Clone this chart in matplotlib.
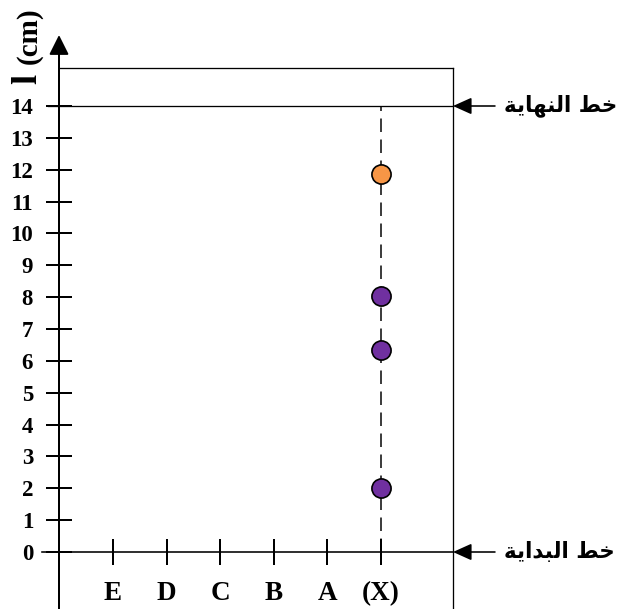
import matplotlib
matplotlib.use("Agg")
import matplotlib.pyplot as plt

# ---- data ----
categories = ["E", "D", "C", "B", "A", "(X)"]
y_ticks = list(range(0, 15))
start_line = 0
finish_line = 14
spot_cat = ["(X)", "(X)", "(X)", "(X)"]
spot_y = [11.85, 8.05, 6.33, 2.0]
spot_colors = ["#F79646", "#7030A0", "#7030A0", "#7030A0"]
label_finish = "\uFE94\uFEF3\uFE8E\uFEEC\uFEE8\uFEDF\uFE8D \uFEC2\uFEA7"   # خط النهاية (shaped, visual order)
label_start = "\uFE94\uFEF3\uFE8D\uFEAA\uFE92\uFEDF\uFE8D \uFEC2\uFEA7"    # خط البداية

plt.rcParams["font.family"] = ["Liberation Serif", "DejaVu Sans"]
plt.rcParams["font.weight"] = "bold"

W, H = 619, 609
fig = plt.figure(figsize=(W / 100, H / 100), dpi=100)

# pixel geometry
x_left, x_right, y_top, y_bot = 59, 453, 68, 609
y0_px, unit = 552, (552 - 106) / 14
cat0_px, cat_step = 113, 53.6

ax = fig.add_axes([x_left / W, 0, (x_right - x_left) / W, (y_bot - y_top) / H])
ax.set_xlim((x_left - cat0_px) / cat_step, (x_right - cat0_px) / cat_step)
ax.set_ylim(-(y_bot - y0_px) / unit, (y0_px - y_top) / unit)

pt = 0.72  # points per pixel

ax.spines["left"].set_linewidth(2 * pt)
ax.spines["top"].set_linewidth(1.3 * pt)
ax.spines["right"].set_linewidth(1.3 * pt)
ax.spines["bottom"].set_position(("data", start_line))
ax.spines["bottom"].set_visible(False)

ax.set_yticks(y_ticks)
ax.set_yticklabels([str(v) for v in y_ticks])
ax.set_xticks(range(len(categories)))
ax.set_xticklabels(categories)
ax.tick_params(axis="y", direction="inout", length=27 * pt, width=2 * pt,
               pad=9.0, labelsize=16.5)
ax.tick_params(axis="x", direction="inout", length=27 * pt, width=2 * pt,
               pad=11, labelsize=19.5)

yt = ax.get_yaxis_transform()
# start / finish lines
ax.plot([-0.043, 1], [start_line, start_line], color="black", lw=1.6 * pt,
        transform=yt, clip_on=False, zorder=3)
ax.plot([-0.028, 1], [finish_line, finish_line], color="black", lw=1.3 * pt,
        transform=yt, clip_on=False, zorder=3)

# dashed path of sample X
xi = categories.index("(X)")
ax.plot([xi, xi], [start_line, finish_line], color="black", lw=1.5 * pt,
        linestyle=(0, (9.0, 5.0)), zorder=2)

# spots
for c, yv, col in zip(spot_cat, spot_y, spot_colors):
    ax.plot(categories.index(c), yv, "o", ms=13.8, mfc=col, mec="black",
            mew=1.2, zorder=4)

# y-axis arrow
ytop = ax.get_ylim()[1]
ax.annotate("", xy=(0, (y0_px - 35) / unit), xytext=(0, ytop), xycoords=yt,
            textcoords=yt,
            arrowprops=dict(arrowstyle="-|>,head_length=0.6,head_width=0.3",
                            mutation_scale=20, lw=2 * pt, color="black",
                            shrinkA=0, shrinkB=0))

# right-side arrows and Arabic labels
tail = (495 - x_left) / (x_right - x_left)
for yv, lab in [(finish_line, label_finish), (start_line, label_start)]:
    ax.annotate("", xy=(1, yv), xytext=(tail, yv), xycoords=yt, textcoords=yt,
                arrowprops=dict(arrowstyle="-|>,head_length=0.6,head_width=0.27",
                                mutation_scale=19, lw=1.6 * pt, color="black",
                                shrinkA=0, shrinkB=0), annotation_clip=False)
    ax.text((504 - x_left) / (x_right - x_left), yv, lab, transform=yt,
            ha="left", va="center", fontsize=15.5, fontweight="bold",
            family=["DejaVu Sans"], clip_on=False)

# y label "l (cm)"
fig.text(36 / W, 1 - 84 / H, "l", rotation=90, rotation_mode="anchor",
         ha="left", va="baseline", fontsize=26, fontweight="bold")
fig.text(36 / W, 1 - 64 / H, "(cm)", rotation=90, rotation_mode="anchor",
         ha="left", va="baseline", fontsize=21, fontweight="bold")

fig.savefig("out.png", dpi=100)
